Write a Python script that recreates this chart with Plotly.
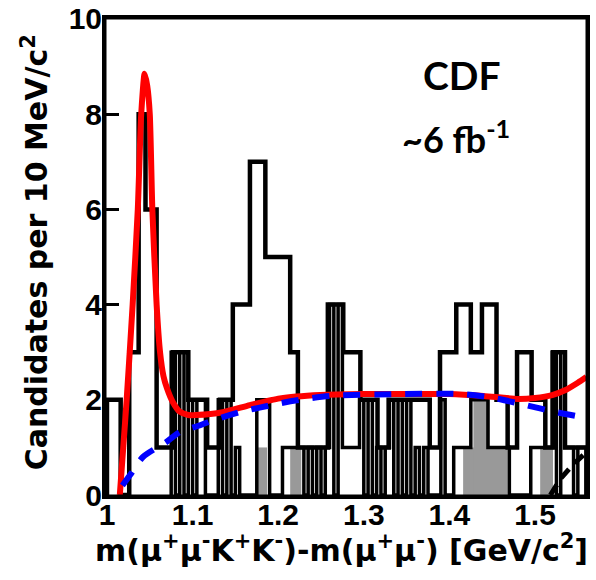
import plotly.graph_objects as go

# ---- data ----
main_edges = [1.000, 1.016, 1.026, 1.037, 1.045, 1.058, 1.077, 1.095, 1.117, 1.132,
              1.147, 1.167, 1.185, 1.214, 1.223, 1.258, 1.276, 1.296, 1.316, 1.329,
              1.377, 1.389, 1.408, 1.425, 1.438, 1.455, 1.468, 1.479, 1.496, 1.512,
              1.521, 1.535, 1.560]
main_counts = [2, 0, 3, 8, 6, 1, 3, 2, 1, 2,
               4, 7, 5, 3, 1, 4, 3, 2, 1, 2,
               1, 3, 4, 3, 4, 2, 1, 3, 2, 1,
               3, 1]

fine_start = 1.075
fine_width = 0.005
fine_counts = [3, 0, 3, 0, 2, 0, 2, 2, 0, 0, 0, 2, 0, 2, 0, 1, 0, 0, 0, 0,
               2, 2, 2, 0, 0, 0, 1, 1, 1, 1, 1, 0, 1, 0, 1, 0, 1, 4, 0, 4,
               1, 1, 1, 1, 2, 0, 2, 0, 1, 0, 1, 2, 0, 2, 0, 2, 0, 1, 0, 1,
               0, 0, 0, 2, 0, 0, 1, 1, 1, 1, 2, 2, 2, 2, 1, 1, 1, 1, 1, 0,
               0, 0, 0, 0, 1, 1, 1, 1, 1, 3, 0, 3, 1, 1, 0, 1, 1]

gray_lo = [1.174, 1.214, 1.416, 1.428, 1.506]
gray_hi = [1.187, 1.227, 1.468, 1.447, 1.521]
gray_val = [1, 1, 1, 2, 1]

fit_x = [1.015, 1.019, 1.023, 1.030, 1.036, 1.040, 1.044, 1.047, 1.050, 1.053,
         1.058, 1.062, 1.066, 1.070, 1.077, 1.085, 1.095, 1.104, 1.135, 1.167,
         1.202, 1.249, 1.300, 1.350, 1.400, 1.440, 1.480, 1.500, 1.520, 1.535,
         1.550, 1.560]
fit_y = [0.0, 1.0, 2.0, 4.0, 6.0, 8.0, 8.85, 8.6, 8.0, 6.0,
         4.0, 3.0, 2.5, 2.25, 1.95, 1.75, 1.68, 1.68, 1.74, 1.89,
         2.03, 2.10, 2.12, 2.12, 2.12, 2.08, 2.02, 2.04, 2.10, 2.20,
         2.36, 2.48]

bkg_x = [1.018, 1.027, 1.042, 1.069, 1.085, 1.106, 1.124, 1.155, 1.203, 1.225,
         1.261, 1.342, 1.416, 1.454, 1.489, 1.525, 1.560]
bkg_y = [0.2, 0.42, 0.8, 1.11, 1.32, 1.45, 1.57, 1.74, 1.93, 2.0,
         2.08, 2.12, 2.12, 2.03, 1.89, 1.74, 1.62]

refl_x = [1.518, 1.530, 1.545, 1.560]
refl_y = [0.0, 0.35, 0.65, 0.9]

x_ticks = [1.0, 1.1, 1.2, 1.3, 1.4, 1.5]
x_tick_text = ["1", "1.1", "1.2", "1.3", "1.4", "1.5"]
y_ticks = [0, 2, 4, 6, 8, 10]


def step_xy(edges, counts):
    xs = [edges[0]] + list(edges)
    ys = [0] + list(counts) + [counts[-1]]
    xs = xs + [edges[-1]]
    ys = ys + [0]
    return xs, ys


fig = go.Figure()

# gray filled histogram
fig.add_trace(go.Bar(
    x=[(a + b) / 2 for a, b in zip(gray_lo, gray_hi)],
    y=gray_val,
    width=[b - a for a, b in zip(gray_lo, gray_hi)],
    marker=dict(color="#999999", line=dict(width=0)),
    showlegend=False, hoverinfo="skip"))

# fine histogram
fine_edges = [round(fine_start + i * fine_width, 4) for i in range(len(fine_counts) + 1)]
fx, fy = step_xy(fine_edges, fine_counts)
fig.add_trace(go.Scatter(x=fx, y=fy, mode="lines", line=dict(color="black", width=3.5, shape="hv"),
                         showlegend=False, hoverinfo="skip"))

# main histogram
mx, my = step_xy(main_edges, main_counts)
fig.add_trace(go.Scatter(x=mx, y=my, mode="lines", line=dict(color="black", width=4.5, shape="hv"),
                         showlegend=False, hoverinfo="skip"))

# reflection-like black dashed curve
fig.add_trace(go.Scatter(x=refl_x, y=refl_y, mode="lines",
                         line=dict(color="black", width=5, dash="12px,8px"),
                         showlegend=False, hoverinfo="skip"))

# total fit (red)
fig.add_trace(go.Scatter(x=fit_x, y=fit_y, mode="lines", line=dict(color="#ff0000", width=6, shape="spline", smoothing=0.6),
                         showlegend=False, hoverinfo="skip"))

# background (blue dashed)
fig.add_trace(go.Scatter(x=bkg_x, y=bkg_y, mode="lines",
                         line=dict(color="#0000ff", width=6, dash="17px,14px", shape="spline", smoothing=0.8),
                         showlegend=False, hoverinfo="skip"))

tick_font = dict(family="Liberation Sans, Arial", size=30, color="black", weight="bold")

fig.update_layout(
    width=596, height=580,
    margin=dict(l=105, r=9, t=18, b=84),
    paper_bgcolor="white", plot_bgcolor="white",
    barmode="overlay",
    showlegend=False,
    xaxis=dict(range=[0.9977, 1.5607], tickvals=x_ticks, ticktext=x_tick_text,
               showgrid=False, zeroline=False, showline=True, linewidth=3, linecolor="black",
               mirror=True, ticks="", tickfont=tick_font, automargin=False,
               ticklabelstandoff=-10, ticklabeloverflow="allow"),
    yaxis=dict(range=[-0.02, 10.02], tickvals=y_ticks,
               showgrid=False, zeroline=False, showline=True, linewidth=3, linecolor="black",
               mirror=True, ticks="inside", ticklen=14, tickwidth=3, tickcolor="black",
               tickfont=tick_font, automargin=False, ticklabelstandoff=-6,
               ticklabeloverflow="allow"),
)

# plot frame
fig.add_shape(type="rect", xref="paper", yref="paper", x0=0, x1=1, y0=0, y1=1,
              line=dict(color="black", width=3), fillcolor="rgba(0,0,0,0)", layer="above")

fig.add_annotation(xref="paper", yref="paper", x=0.49, y=-0.109,
                   text="m(μ<sup>+</sup>μ<sup>-</sup>K<sup>+</sup>K<sup>-</sup>)-m(μ<sup>+</sup>μ<sup>-</sup>) [GeV/c<sup>2</sup>]",
                   showarrow=False, xanchor="center", yanchor="middle",
                   font=dict(family="DejaVu Sans", size=30, color="black", weight="bold"))
fig.add_annotation(xref="paper", yref="paper", x=-0.145, y=0.51, textangle=-90,
                   text="Candidates per 10 MeV/c<sup>2</sup>",
                   showarrow=False, xanchor="center", yanchor="middle",
                   font=dict(family="DejaVu Sans", size=30, color="black", weight="bold"))
fig.add_annotation(xref="paper", yref="paper", x=0.741, y=0.880,
                   text="CDF", showarrow=False, xanchor="center", yanchor="middle",
                   font=dict(family="Lato", size=39, color="black", weight="bold"))
fig.add_annotation(xref="paper", yref="paper", x=0.728, y=0.751,
                   text="~6 fb<sup>-1</sup>", showarrow=False, xanchor="center", yanchor="middle",
                   font=dict(family="Lato", size=36, color="black", weight="bold"))

# remove the browser's default 8px page margin so the figure sits at the window origin;
# hide the mode bar so it does not cover the top of the frame
fig.write_html("out.html", config={"displayModeBar": False},
               post_script="document.body.style.margin='0px';")
